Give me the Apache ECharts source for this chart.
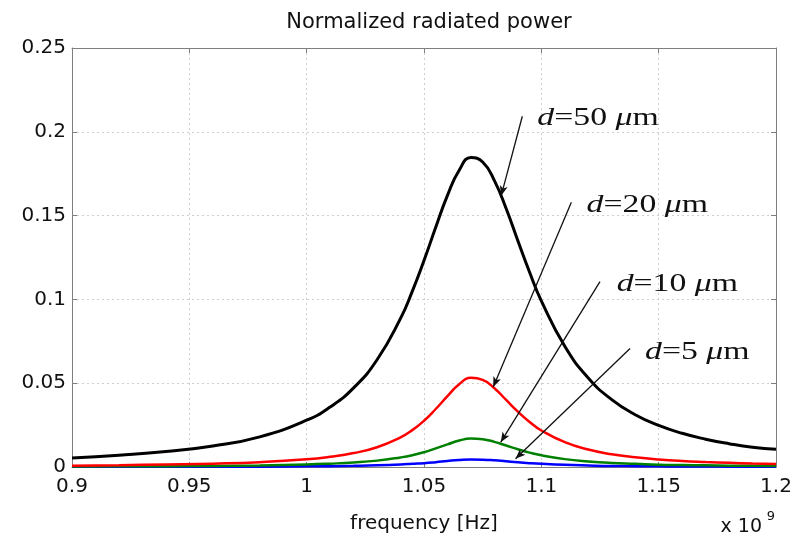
<!DOCTYPE html>
<html>
<head>
<meta charset="utf-8">
<script src="https://cdn.jsdelivr.net/npm/echarts@6/dist/echarts.min.js"></script>
<style>html,body{margin:0;padding:0;background:#fff}#c{width:804px;height:539px}</style>
</head>
<body>
<div id="c"></div>
<script>
// frequency in units of 1e9 Hz
const freq = [0.90,0.92,0.94,0.96,0.98,1.00,1.01,1.02,1.03,1.04,1.045,1.05,1.055,1.06,1.065,1.07,1.075,1.08,1.085,1.09,1.095,1.10,1.11,1.12,1.13,1.14,1.15,1.16,1.17,1.18,1.19,1.20];
const pD50 = [0.0053,0.0070,0.0092,0.0125,0.0180,0.0279,0.0358,0.0472,0.0640,0.0887,0.1048,0.1232,0.1430,0.1621,0.1771,0.1846,0.1820,0.1709,0.1542,0.1350,0.1162,0.0991,0.0720,0.0531,0.0402,0.0312,0.0248,0.0201,0.0166,0.0139,0.0118,0.0106];
const pD20 = [0.0008,0.0011,0.0015,0.0020,0.0029,0.0046,0.0061,0.0083,0.0118,0.0177,0.0220,0.0276,0.0346,0.0423,0.0494,0.0532,0.0520,0.0470,0.0400,0.0330,0.0269,0.0218,0.0148,0.0104,0.0076,0.0058,0.0045,0.0036,0.0030,0.0025,0.0021,0.0018];
const pD10 = [0.0003,0.0004,0.0005,0.0006,0.0009,0.0015,0.0020,0.0027,0.0038,0.0057,0.0070,0.0088,0.0111,0.0135,0.0158,0.0170,0.0166,0.0150,0.0128,0.0106,0.0086,0.0070,0.0047,0.0033,0.0024,0.0019,0.0014,0.0012,0.0010,0.0008,0.0007,0.0006];
const pD5  = [0.0001,0.0001,0.0001,0.0002,0.0002,0.0004,0.0005,0.0007,0.0010,0.0015,0.0019,0.0023,0.0029,0.0036,0.0042,0.0045,0.0044,0.0040,0.0034,0.0028,0.0023,0.0019,0.0013,0.0009,0.0006,0.0005,0.0004,0.0003,0.0003,0.0002,0.0002,0.0002];

// annotations (data coordinates)
const annoNum   = ['50','20','10','5'];
const annoTextX = [1.0983,1.1193,1.1321,1.1442];
const annoTextY = [0.2079,0.1564,0.1090,0.0687];
const arrowX0 = [1.0919,1.1128,1.1250,1.1378];
const arrowY0 = [0.2093,0.1580,0.1106,0.0707];
const arrowX1 = [1.0829,1.0795,1.0827,1.0890];
const arrowY1 = [0.1619,0.0478,0.0148,0.0049];

const xTicks = {min:0.9, max:1.2, interval:0.05};
const yTicks = {min:0, max:0.25, interval:0.05};

const sans = 'DejaVu Sans';
const txt = '#111';
const axisGray = '#7f7f7f';
const gridStyle = {color:'#cfcfcf', type:[2,3], width:1};

const mk = (arr) => freq.map((f,i)=>[f,arr[i]]);

const arrows = arrowX0.map((x,i)=>[{coord:[x,arrowY0[i]]},{coord:[arrowX1[i],arrowY1[i]]}]);

const chart = echarts.init(document.getElementById('c'), null, {renderer:'canvas'});
const option = {
  animation:false,
  backgroundColor:'#fff',
  title:{text:'Normalized radiated power', left:424, top:7, textAlign:'center',
    textStyle:{fontFamily:sans, fontSize:21, fontWeight:'normal', color:txt}},
  grid:{left:72, right:28, top:48, bottom:69, containLabel:false},
  xAxis:[
    {type:'value', position:'bottom', min:xTicks.min, max:xTicks.max, interval:xTicks.interval,
     axisLine:{show:true, onZero:false, lineStyle:{color:axisGray, width:1}},
     axisTick:{show:true, inside:true, length:5, lineStyle:{color:axisGray}},
     axisLabel:{color:txt, fontFamily:sans, fontSize:20, margin:10},
     splitLine:{show:true, lineStyle:gridStyle},
     name:'frequency [Hz]', nameLocation:'middle', nameGap:47,
     nameTextStyle:{fontFamily:sans, fontSize:20, color:txt}},
    {type:'value', position:'top', min:xTicks.min, max:xTicks.max, interval:xTicks.interval,
     axisLine:{show:true, onZero:false, lineStyle:{color:axisGray, width:1}},
     axisTick:{show:true, inside:true, length:5, lineStyle:{color:axisGray}},
     axisLabel:{show:false}, splitLine:{show:false}}
  ],
  yAxis:[
    {type:'value', position:'left', min:yTicks.min, max:yTicks.max, interval:yTicks.interval,
     axisLine:{show:true, onZero:false, lineStyle:{color:axisGray, width:1}},
     axisTick:{show:true, inside:true, length:5, lineStyle:{color:axisGray}},
     axisLabel:{color:txt, fontFamily:sans, fontSize:20, margin:6},
     splitLine:{show:true, lineStyle:gridStyle}},
    {type:'value', position:'right', min:yTicks.min, max:yTicks.max, interval:yTicks.interval,
     axisLine:{show:true, onZero:false, lineStyle:{color:axisGray, width:1}},
     axisTick:{show:true, inside:true, length:5, lineStyle:{color:axisGray}},
     axisLabel:{show:false}, splitLine:{show:false}}
  ],
  series:[
    {name:'d=5 um', type:'line', data:mk(pD5), showSymbol:false, smooth:0.5, lineStyle:{color:'#0000ff', width:2.5}, itemStyle:{color:'#0000ff'}},
    {name:'d=10 um', type:'line', data:mk(pD10), showSymbol:false, smooth:0.5, lineStyle:{color:'#008000', width:2.5}, itemStyle:{color:'#008000'}},
    {name:'d=20 um', type:'line', data:mk(pD20), showSymbol:false, smooth:0.5, lineStyle:{color:'#ff0000', width:2.5}, itemStyle:{color:'#ff0000'}},
    {name:'d=50 um', type:'line', data:mk(pD50), showSymbol:false, smooth:0.5, lineStyle:{color:'#000000', width:3}, itemStyle:{color:'#000'},
     markLine:{silent:true, symbol:['none','arrow'], symbolSize:[6,10], label:{show:false},
       lineStyle:{color:'#111', width:1.3, type:'solid'}, emphasis:{disabled:true}, data:arrows}}
  ]
};
chart.setOption(option);

const graphics = [];
annoNum.forEach((n,i)=>{
  const p = chart.convertToPixel({xAxisIndex:0, yAxisIndex:0}, [annoTextX[i], annoTextY[i]]);
  graphics.push({type:'text', x:p[0], y:p[1], scaleX:1.3, z:100,
    style:{text:'{i|d}{n|=' + n + ' }{i|\u03bc}{n|m}', textAlign:'left', textVerticalAlign:'middle',
      rich:{
        i:{fontFamily:'Liberation Serif', fontStyle:'italic', fontSize:26, fill:'#111', color:'#111'},
        n:{fontFamily:'Liberation Serif', fontSize:26, fill:'#111', color:'#111'}
      }}});
});
graphics.push({type:'text', right:42, bottom:2, z:100,
  style:{text:'x 10', font:'19px "DejaVu Sans"', fill:txt}});
graphics.push({type:'text', right:29, bottom:16, z:100,
  style:{text:'9', font:'13px "DejaVu Sans"', fill:txt}});
chart.setOption({graphic:graphics});
</script>
</body>
</html>
